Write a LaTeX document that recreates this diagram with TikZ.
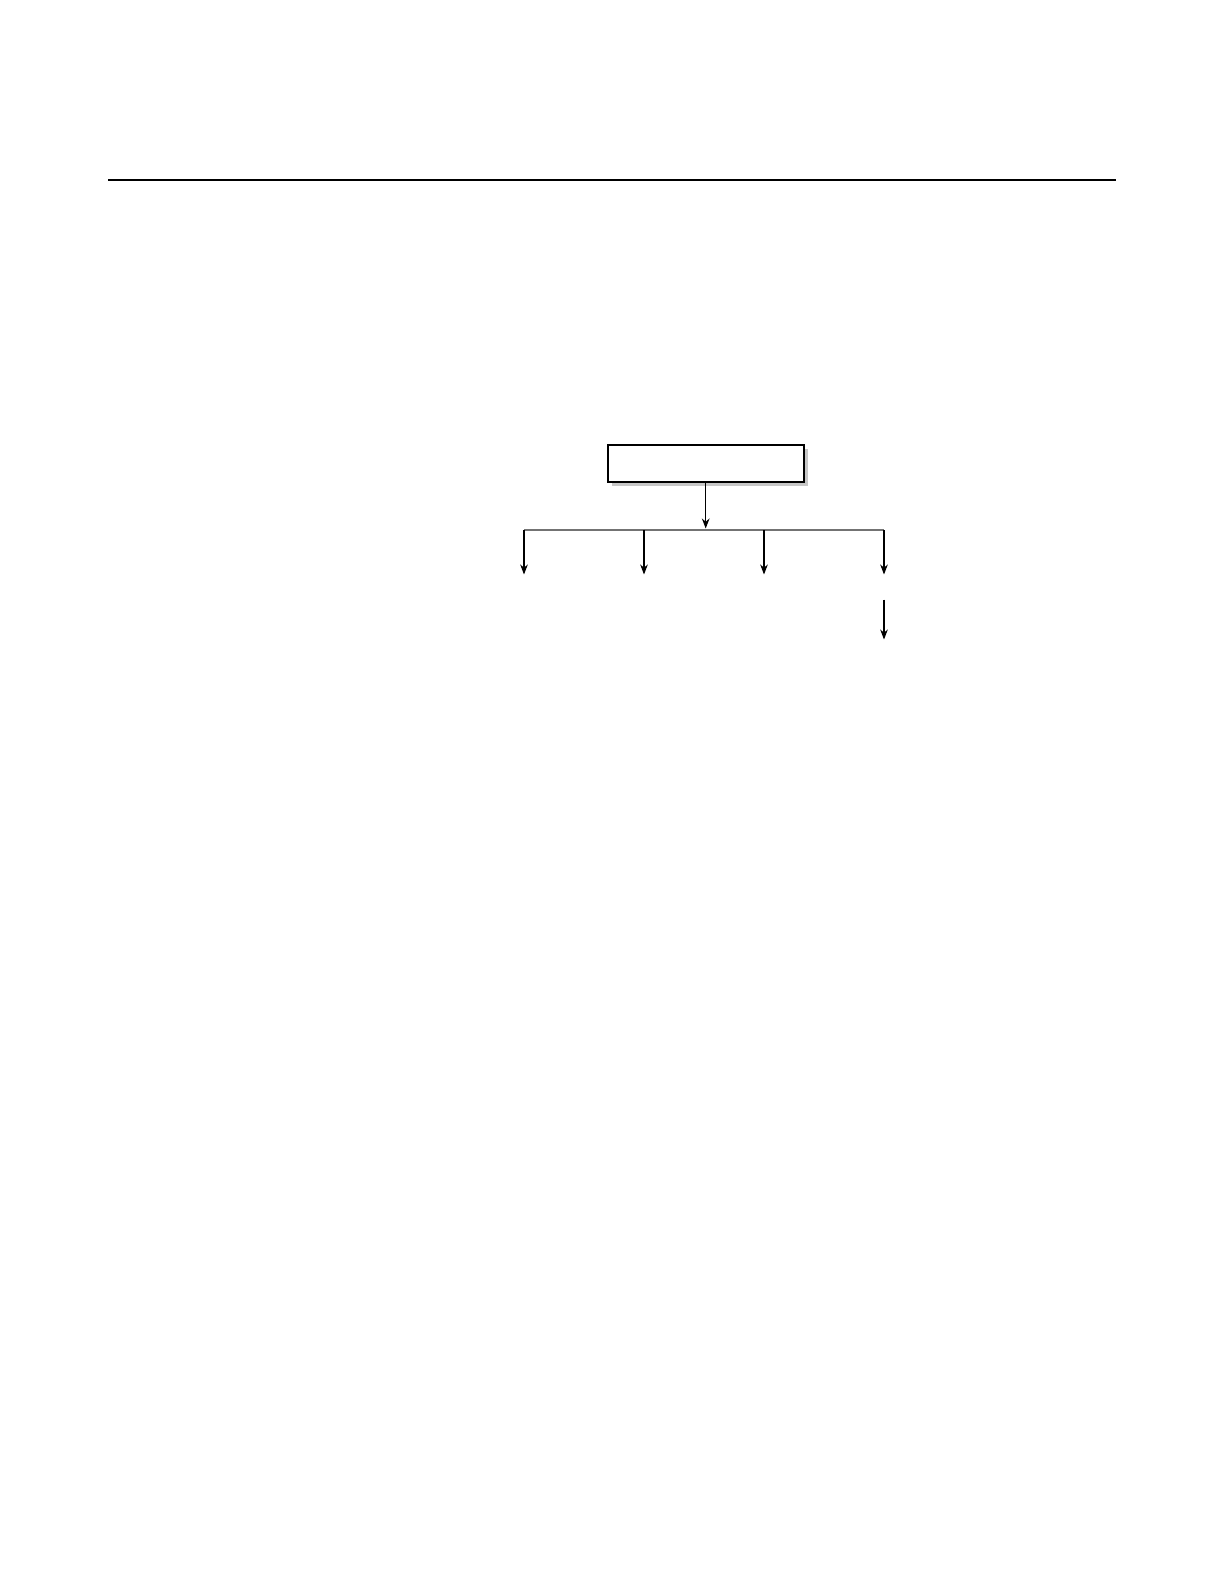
\documentclass[tikz,border=0pt]{standalone}
\usepackage{tikz}
\usetikzlibrary{arrows.meta, shadows}

\begin{document}
\begin{tikzpicture}[x=0.5bp, y=-0.5bp, >={Stealth[length=5bp, width=3.8bp]},
    topbox/.style={draw, line width=1bp, fill=white, inner sep=0pt,
        minimum width=98bp, minimum height=18.5bp,
        drop shadow={shadow xshift=2.2bp, shadow yshift=-2.2bp, fill=black!22, opacity=1}},
    arr/.style={->, line width=0.6bp},
    bar/.style={line width=0.6bp, black!55}]

    % page frame
    \useasboundingbox (0,0) rectangle (1224,1584);

    % rule across the top of the page
    \draw[line width=1bp] (108,179.7) -- (1115.5,179.7);

    % the top box and its arrow down to the bar
    \node[topbox] (head) at (705.7,463.3) {};
    \coordinate (split) at (705.7,528.5);
    \draw[arr] (head) -- (split);

    % the bar and four branches
    \foreach \x [count=\i] in {524,644,764,884} {
        \coordinate (top\i) at (\x,530);
        \coordinate (end\i) at (\x,574.5);
    }
    \draw[bar] (top1) -- (top4);
    \foreach \i in {1,...,4}
        \draw[arr] (top\i) -- (end\i);

    % second arrow under the last branch
    \coordinate (lastS) at (884,599.5);
    \coordinate (lastE) at (884,639.5);
    \draw[arr] (lastS) -- (lastE);

\end{tikzpicture}
\end{document}
